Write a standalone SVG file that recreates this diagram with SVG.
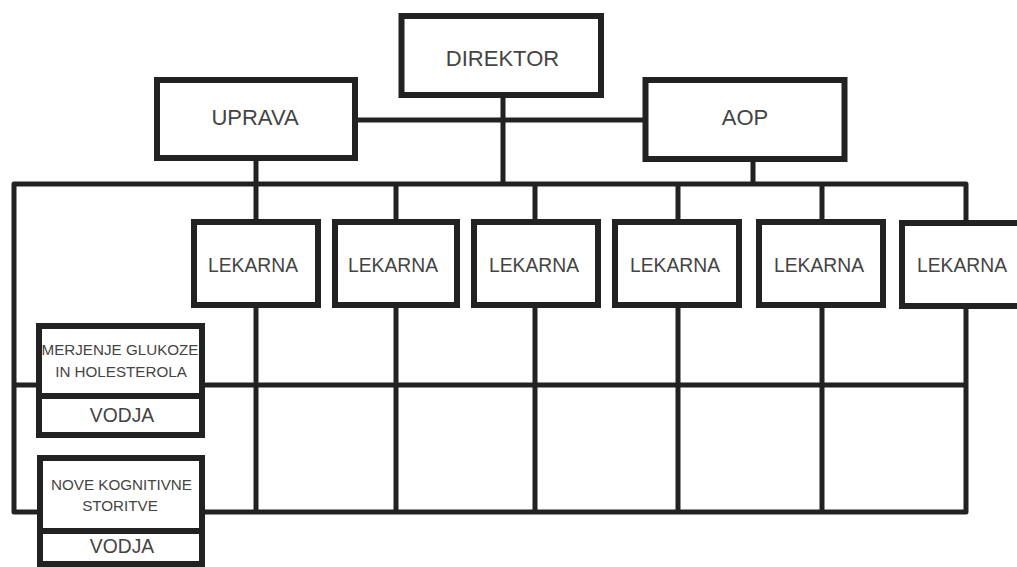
<svg xmlns="http://www.w3.org/2000/svg" width="1017" height="567" viewBox="0 0 1017 567">
<style>
.box{fill:#fff;stroke:#222;stroke-width:6;}
.ln{fill:none;stroke:#222;stroke-width:5;stroke-linejoin:round;}
text{font-family:"Liberation Sans",Arial,sans-serif;fill:#444;text-anchor:middle;}
.big{font-size:22px;}
.mid{font-size:19.3px;}
.sm{font-size:15.2px;}
</style>
<rect width="1017" height="567" fill="#fff"/>
<g id="connectors">
<path class="ln" d="M14,184 H966 V512 H14 Z"/>
<path class="ln" d="M14,385 H966"/>
<path class="ln" d="M256,158 V512 M396,184 V512 M535,184 V512 M678,184 V512 M822,184 V512"/>
<path class="ln" d="M753,159 V184 M503,95 V184 M355,120 H645"/>
</g>
<g id="direktor"><rect class="box" x="401.5" y="16" width="199.5" height="79"/><text class="big" x="502.5" y="66">DIREKTOR</text></g>
<g id="uprava"><rect class="box" x="157" y="80" width="198" height="78"/><text class="big" x="255" y="125">UPRAVA</text></g>
<g id="aop"><rect class="box" x="645.5" y="80" width="199" height="79"/><text class="big" x="745" y="125">AOP</text></g>
<g id="lekarna1"><rect class="box" x="194" y="222" width="124" height="83"/><text class="mid" x="253" y="272">LEKARNA</text></g>
<g id="lekarna2"><rect class="box" x="335" y="222" width="122" height="83"/><text class="mid" x="393" y="272">LEKARNA</text></g>
<g id="lekarna3"><rect class="box" x="474" y="222" width="124" height="83"/><text class="mid" x="534" y="272">LEKARNA</text></g>
<g id="lekarna4"><rect class="box" x="615" y="222" width="124" height="83"/><text class="mid" x="675" y="272">LEKARNA</text></g>
<g id="lekarna5"><rect class="box" x="759" y="222" width="124" height="83"/><text class="mid" x="819" y="272">LEKARNA</text></g>
<g id="lekarna6"><rect class="box" x="902" y="223" width="130" height="83"/><text class="mid" x="962" y="272">LEKARNA</text></g>
<g id="merjenje"><rect class="box" x="39" y="326" width="163" height="109"/><line x1="39" y1="396" x2="202" y2="396" stroke="#222" stroke-width="6"/><text class="sm" x="120" y="355">MERJENJE GLUKOZE</text><text class="sm" x="121" y="377">IN HOLESTEROLA</text><text class="mid" x="122" y="422">VODJA</text></g>
<g id="nove"><rect class="box" x="40" y="458" width="162" height="106"/><line x1="40" y1="531" x2="202" y2="531" stroke="#222" stroke-width="6"/><text class="sm" x="121.5" y="490">NOVE KOGNITIVNE</text><text class="sm" x="120" y="511">STORITVE</text><text class="mid" x="122" y="553">VODJA</text></g>
</svg>
